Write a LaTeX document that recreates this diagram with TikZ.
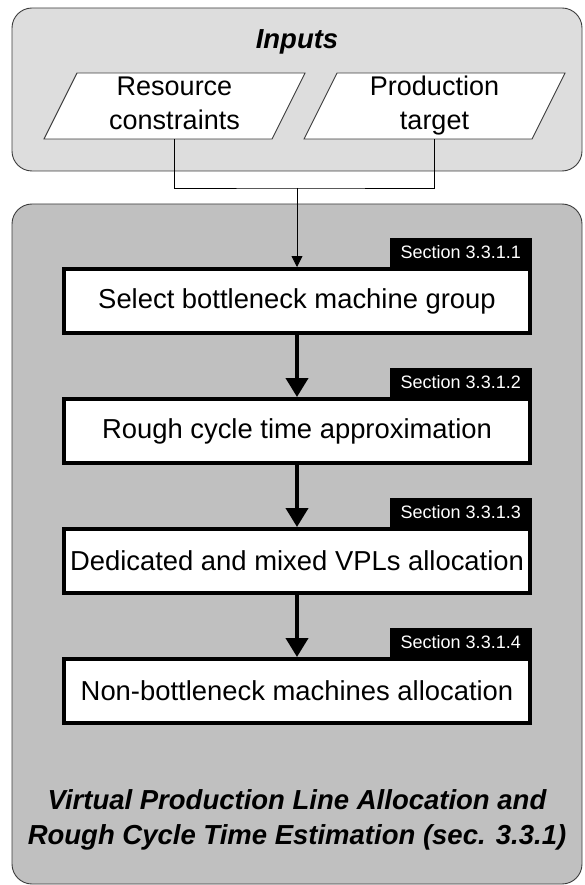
\documentclass[tikz,border=0pt]{standalone}
\usepackage{fontspec}
\setmainfont{Liberation Sans}
\usepackage{tikz}
\usetikzlibrary{positioning,calc}
\usetikzlibrary{arrows.meta,shadows}
\definecolor{PanelLight}{RGB}{221,221,221}
\definecolor{PanelDark}{RGB}{192,192,192}
\definecolor{EdgeGray}{RGB}{60,60,60}
\tikzset{
  panel/.style={draw=EdgeGray,line width=0.9pt,rounded corners=20pt},
  para/.style={draw=EdgeGray,fill=white,line width=0.9pt},
  intext/.style={align=center,inner sep=0pt,font=\fontsize{27}{34}\selectfont},
  stepbox/.style={draw=black,fill=white,line width=4pt,minimum width=466pt,
    minimum height=64pt,inner sep=0pt,font=\fontsize{27.4}{32}\selectfont,
    drop shadow={shadow xshift=1.5pt,shadow yshift=-1.5pt,fill=black!45,opacity=1}},
  sec/.style={fill=black,text=white,inner xsep=11pt,inner ysep=0pt,
    minimum height=29pt,anchor=south east,font=\fontsize{18}{20}\selectfont},
  wire/.style={draw=black,line width=0.8pt},
  flow/.style={draw=black,line width=4pt,-{Triangle[length=19pt,width=22pt]}},
  heading/.style={align=center,inner sep=0pt,font=\fontsize{27.5}{35}\selectfont\bfseries\itshape},
}

\begin{document}
\begin{tikzpicture}[x=1pt,y=-1pt]
\useasboundingbox (0,0) rectangle (584,885);
\filldraw[panel,fill=PanelLight] (12,8) rectangle (582,171);
\filldraw[panel,fill=PanelDark] (12,204) rectangle (582,884);
\node[heading] (inputs) at (297,42) {Inputs};
\coordinate (res) at (174.5,106);
\coordinate (prod) at (434.5,106);
\filldraw[para] ($(res)+(-130.5,33)$) -- ++(228,0) -- ++(33,-66) -- ++(-228,0) -- cycle;
\filldraw[para] ($(prod)+(-130.5,33)$) -- ++(228,0) -- ++(33,-66) -- ++(-228,0) -- cycle;
\node[intext] (restxt) at (res) {Resource\strut\\constraints\strut};
\node[intext] (prodtxt) at (prod) {Production\strut\\target\strut};
\coordinate (resb) at (174.5,139);
\coordinate (prodb) at (434.5,139);
\coordinate (join) at (297,188);
\node[stepbox] (select) at (297,301) {Select bottleneck machine group};
\node[stepbox] (rough) at (297,431) {Rough cycle time approximation};
\node[stepbox] (vpl) at (297,561) {Dedicated and mixed VPLs allocation};
\node[stepbox] (nonbn) at (297,691) {Non-bottleneck machines allocation};
\node[sec] (sec1) at (select.north east) {Section 3.3.1.1};
\node[sec] (sec2) at (rough.north east) {Section 3.3.1.2};
\node[sec] (sec3) at (vpl.north east) {Section 3.3.1.3};
\node[sec] (sec4) at (nonbn.north east) {Section 3.3.1.4};
\draw[wire] (resb) |- (join) -| (prodb);
\draw[wire,-{Triangle[length=11pt,width=11pt]}] (join) -- (select.north);
\draw[flow] (select.south) -- (rough.north);
\draw[flow] (rough.south) -- (vpl.north);
\draw[flow] (vpl.south) -- (nonbn.north);
\node[heading] (vplrct) at (297,820) {Virtual Production Line Allocation and\\Rough Cycle Time Estimation (sec. 3.3.1)};
\end{tikzpicture}
\end{document}
